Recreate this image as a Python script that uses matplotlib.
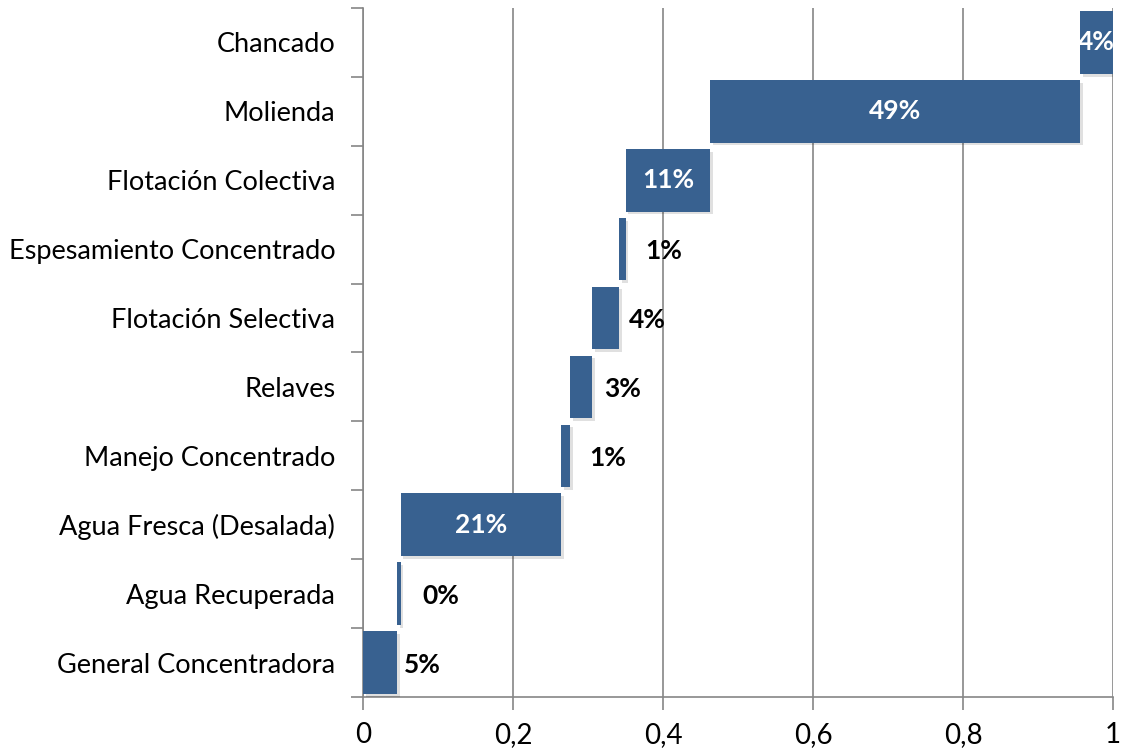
import matplotlib
matplotlib.use("Agg")
import matplotlib.pyplot as plt
import matplotlib.patheffects as pe
import numpy as np

categories = ["General Concentradora", "Agua Recuperada", "Agua Fresca (Desalada)",
              "Manejo Concentrado", "Relaves", "Flotación Selectiva",
              "Espesamiento Concentrado", "Flotación Colectiva", "Molienda", "Chancado"]
values = [0.045, 0.005, 0.214, 0.012, 0.029, 0.036, 0.009, 0.113, 0.493, 0.044]
labels = ["5%", "0%", "21%", "1%", "3%", "4%", "1%", "11%", "49%", "4%"]
inside = [False, False, True, False, False, False, False, True, True, True]
xticks = [0, 0.2, 0.4, 0.6, 0.8, 1.0]
xticklabels = ["0", "0,2", "0,4", "0,6", "0,8", "1"]

plt.rcParams['font.family'] = ['Lato', 'DejaVu Sans']

fig = plt.figure(figsize=(11.22, 7.48), dpi=100)
ax = fig.add_axes([363/1122, 1-697/748, 750/1122, 689/748])

starts = np.concatenate([[0], np.cumsum(values)[:-1]])
y = np.arange(len(categories))
color = "#386190"
bars = ax.barh(y, values, left=starts, height=0.91, color=color, zorder=3)
for b in bars:
    b.set_path_effects([pe.SimplePatchShadow(offset=(2, -2), alpha=0.12, shadow_rgbFace="black"), pe.Normal()])

for yi, s, v, lab, ins in zip(y, starts, values, labels, inside):
    if ins:
        ax.text(s + v/2, yi, lab, ha="center", va="center", color="white",
                fontsize=19, fontweight="bold", zorder=5)
    else:
        ax.text(s + v/2 + 0.056, yi - 0.03, lab, ha="center", va="center", color="black",
                fontsize=19, fontweight="bold", zorder=5)

ax.set_xlim(0, 1)
ax.set_ylim(-0.5, len(categories) - 0.5)
ax.set_xticks(xticks)
ax.set_xticklabels(xticklabels, fontsize=20)
ax.set_yticks(y)
ax.set_yticklabels(categories, fontsize=19.5)
ax.set_yticks(np.arange(-0.5, len(categories)), minor=True)

grid_color = "#868686"
ax.grid(axis="x", color=grid_color, linewidth=1.2, zorder=0)
for side in ["top", "right"]:
    ax.spines[side].set_visible(False)
for side in ["left", "bottom"]:
    ax.spines[side].set_color(grid_color)
    ax.spines[side].set_linewidth(1.2)

ax.tick_params(axis="y", which="major", length=0, pad=20)
ax.tick_params(axis="y", which="minor", length=9, color=grid_color, width=1.2)
ax.tick_params(axis="x", which="major", length=9, color=grid_color, width=1.2, pad=9)

fig.savefig("out.png", dpi=100)
